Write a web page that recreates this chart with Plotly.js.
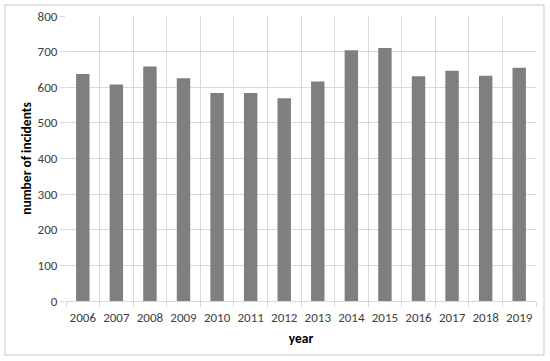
<!DOCTYPE html>
<html>
<head>
<meta charset="utf-8">
<script src="https://cdn.plot.ly/plotly-3.0.1.min.js"></script>
<style>
  html, body { margin: 0; padding: 0; background: #fff; }
  #myDiv { width: 550px; height: 361px; }
</style>
</head>
<body>
<div id="myDiv"></div>
<script>
var years = ['2006', '2007', '2008', '2009', '2010', '2011', '2012',
             '2013', '2014', '2015', '2016', '2017', '2018', '2019'];
var incidents = [637, 608, 658, 625, 584, 584, 569, 616, 704, 710, 631, 646, 632, 655];
var yTicks = [0, 100, 200, 300, 400, 500, 600, 700, 800];

var trace1 = {
  x: years,
  y: incidents,
  type: 'bar',
  marker: {color: '#7f7f7f'},
  width: 0.4,
  hoverinfo: 'x+y'
};

var gridGray = '#d9d9d9';
var fontFam = 'Carlito, Calibri, Lato, "Open Sans", sans-serif';

var layout = {
  width: 550,
  height: 361,
  margin: {l: 66, r: 14, t: 16, b: 60},
  paper_bgcolor: '#ffffff',
  plot_bgcolor: '#ffffff',
  showlegend: false,
  font: {family: fontFam, size: 13, color: '#404040'},
  xaxis: {
    type: 'category',
    tickson: 'boundaries',
    tickangle: 0,
    showgrid: true,
    gridcolor: gridGray,
    gridwidth: 1,
    ticks: 'outside',
    ticklen: 5,
    tickcolor: gridGray,
    ticklabelstandoff: 4,
    showline: true,
    linecolor: gridGray,
    tickfont: {size: 13, color: '#404040'},
    title: {text: 'year', font: {size: 13.5, color: '#000', weight: 'bold'}, standoff: 9}
  },
  yaxis: {
    range: [0, 800],
    tickvals: yTicks,
    showgrid: true,
    gridcolor: gridGray,
    zeroline: false,
    ticks: 'outside',
    ticklen: 5,
    tickcolor: gridGray,
    showline: false,
    tickfont: {size: 13, color: '#404040'},
    title: {text: 'number of incidents', font: {size: 13.5, color: '#000', weight: 'bold'}, standoff: 2}
  },
  shapes: [{
    type: 'rect',
    xref: 'paper', yref: 'paper',
    x0: -0.1298, x1: 1.017, y0: -0.1895, y1: 1.0386,
    line: {color: gridGray, width: 1.5},
    fillcolor: 'rgba(0,0,0,0)',
    layer: 'below'
  }]
};

var plotDiv = document.getElementById('myDiv');

Plotly.newPlot(plotDiv, [trace1], layout, {displayModeBar: false, staticPlot: true});
</script>
</body>
</html>
